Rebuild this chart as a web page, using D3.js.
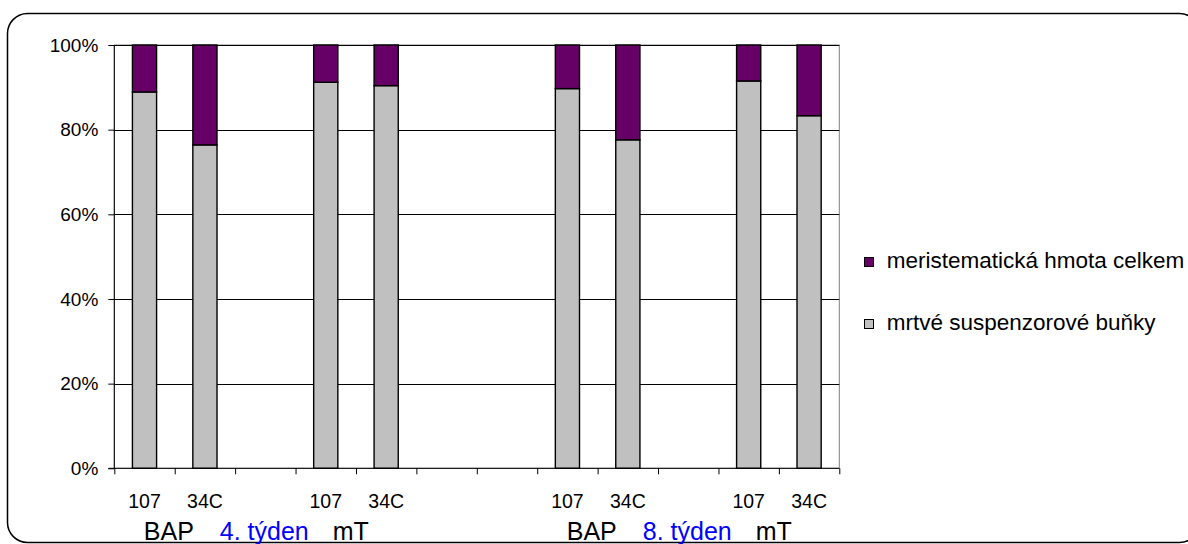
<!DOCTYPE html>
<html>
<head>
<meta charset="utf-8">
<script src="https://cdn.jsdelivr.net/npm/d3@7"></script>
<style>
  html, body { margin: 0; padding: 0; background: #fff; }
  svg { display: block; font-family: "Liberation Sans", Arial, sans-serif; }
</style>
</head>
<body>
<svg id="chart" width="1188" height="544"></svg>
<script>
// Category slots along the x axis (empty strings are spacer slots)
const slotLabels = ["107", "34C", "", "107", "34C", "", "", "107", "34C", "", "107", "34C"];

// Share of dead suspensor cells (%), null where a slot has no bar
const deadCells = [88.9, 76.4, null, 91.2, 90.4, null, null, 89.7, 77.6, null, 91.5, 83.3];
// Share of total meristematic mass (%)
const meristem  = [11.1, 23.6, null, 8.8, 9.6, null, null, 10.3, 22.4, null, 8.5, 16.7];

const seriesNames = ["meristematická hmota celkem", "mrtvé suspenzorové buňky"];
const seriesColors = ["#660066", "#C0C0C0"];

const yTicks = [0, 20, 40, 60, 80, 100];

// Group captions under the category labels
const groupFirst = [0, 7];
const groupLast = [4, 11];
const groupLeft = ["BAP", "BAP"];
const groupMid = ["4. týden", "8. týden"];
const groupRight = ["mT", "mT"];

const svg = d3.select("#chart");

// Outer rounded frame
svg.append("rect")
  .attr("x", 7.5).attr("y", 13.5)
  .attr("width", 1192).attr("height", 529)
  .attr("rx", 20).attr("ry", 20)
  .attr("fill", "#fff").attr("stroke", "#000").attr("stroke-width", 1.5);

const plot = { left: 114.3, right: 839.3, top: 45, bottom: 468.3 };

const x = d3.scaleBand()
  .domain(d3.range(slotLabels.length))
  .range([plot.left, plot.right])
  .paddingInner(0.6).paddingOuter(0.3).align(0.5);

const xEdge = d3.scaleLinear()
  .domain([0, slotLabels.length])
  .range([plot.left, plot.right]);

const y = d3.scaleLinear().domain([0, 100]).range([plot.bottom, plot.top]);

// Plot area border
svg.append("rect")
  .attr("x", plot.left).attr("y", plot.top)
  .attr("width", plot.right - plot.left).attr("height", plot.bottom - plot.top)
  .attr("fill", "none").attr("stroke", "#808080").attr("stroke-width", 1);

// Horizontal gridlines
svg.append("g")
  .selectAll("line")
  .data(yTicks.filter(d => d > 0))
  .join("line")
  .attr("x1", plot.left).attr("x2", plot.right)
  .attr("y1", d => Math.round(y(d)) + 0.5).attr("y2", d => Math.round(y(d)) + 0.5)
  .attr("stroke", "#000").attr("stroke-width", 1);

// Stacked bars
const rows = slotLabels.map((lab, i) => ({ i, dead: deadCells[i], mer: meristem[i] }))
  .filter(d => d.dead != null);

const bars = svg.append("g");
bars.selectAll("rect.dead")
  .data(rows)
  .join("rect")
  .attr("class", "dead")
  .attr("x", d => x(d.i)).attr("width", x.bandwidth())
  .attr("y", d => y(d.dead)).attr("height", d => y(0) - y(d.dead))
  .attr("fill", seriesColors[1]).attr("stroke", "#000").attr("stroke-width", 1.4);
bars.selectAll("rect.mer")
  .data(rows)
  .join("rect")
  .attr("class", "mer")
  .attr("x", d => x(d.i)).attr("width", x.bandwidth())
  .attr("y", d => y(d.dead + d.mer)).attr("height", d => y(d.dead) - y(d.dead + d.mer))
  .attr("fill", seriesColors[0]).attr("stroke", "#000").attr("stroke-width", 1.4);

// Y axis
const yAxis = svg.append("g")
  .attr("transform", `translate(${plot.left},0)`)
  .call(d3.axisLeft(y).tickValues(yTicks).tickFormat(d => d + "%").tickSize(6).tickPadding(10));
yAxis.select(".domain").attr("stroke", "#000").attr("d", `M0,${plot.top}V${plot.bottom}`);
yAxis.selectAll(".tick line").attr("stroke", "#000");
yAxis.selectAll(".tick text")
  .attr("font-size", 19).attr("fill", "#000")
  .attr("font-family", "'Liberation Sans', Arial, sans-serif");

// X axis: ticks on slot boundaries
const xAxisTicks = svg.append("g")
  .attr("transform", `translate(0,${plot.bottom})`)
  .call(d3.axisBottom(xEdge).tickValues(d3.range(slotLabels.length + 1)).tickFormat("").tickSize(6));
xAxisTicks.select(".domain").attr("stroke", "#000").attr("d", `M${plot.left - 6},0H${plot.right}`);
xAxisTicks.selectAll(".tick line").attr("stroke", "#000");

// X axis: category labels centred in their slots
const xAxisLabels = svg.append("g")
  .attr("transform", `translate(0,${plot.bottom})`)
  .call(d3.axisBottom(x).tickFormat(i => slotLabels[i]).tickSize(0).tickPadding(26));
xAxisLabels.select(".domain").remove();
xAxisLabels.selectAll(".tick text")
  .attr("font-size", 19.5).attr("fill", "#000")
  .attr("font-family", "'Liberation Sans', Arial, sans-serif");

// Group captions
const groups = svg.append("g");
groupFirst.forEach((f, k) => {
  const cx = (xEdge(f) + xEdge(groupLast[k] + 1)) / 2 - 9;
  const t = groups.append("text")
    .attr("x", cx).attr("y", 540)
    .attr("text-anchor", "middle")
    .attr("font-size", 25).attr("fill", "#000");
  t.append("tspan").text(groupLeft[k]);
  t.append("tspan").attr("dx", 26).attr("fill", "#0000FF").text(groupMid[k]);
  t.append("tspan").attr("dx", 24).text(groupRight[k]);
});

// Legend
const legend = svg.append("g").attr("transform", "translate(864,0)");
const legendY = [262, 324];
seriesNames.forEach((name, k) => {
  legend.append("rect")
    .attr("x", 0.5).attr("y", legendY[k] - 4.5)
    .attr("width", 9).attr("height", 9)
    .attr("fill", seriesColors[k]).attr("stroke", "#000").attr("stroke-width", 1);
  legend.append("text")
    .attr("x", 22.7).attr("y", legendY[k] + 5.5)
    .attr("font-size", 22.5).attr("fill", "#000")
    .text(name);
});
</script>
</body>
</html>
